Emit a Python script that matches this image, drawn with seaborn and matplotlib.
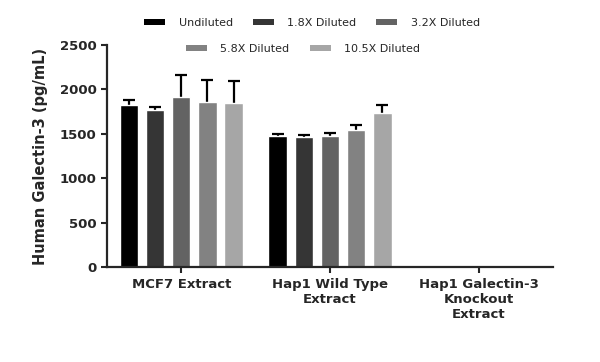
import pandas as pd
import matplotlib
matplotlib.use("Agg")
import matplotlib.pyplot as plt
from matplotlib.patches import Patch
import seaborn as sns

samples = ["MCF7 Extract", "Hap1 Wild Type\nExtract", "Hap1 Galectin-3\nKnockout\nExtract"]
dilutions = ["Undiluted", "1.8X Diluted", "3.2X Diluted", "5.8X Diluted", "10.5X Diluted"]
colors = ["#000000", "#353535", "#636363", "#828282", "#a6a6a6"]

# mean concentration per sample, one list per dilution (knockout: not detected)
undiluted = [1829, 1474, float("nan")]
dil_1_8 = [1772, 1463, float("nan")]
dil_3_2 = [1915, 1474, float("nan")]
dil_5_8 = [1862, 1546, float("nan")]
dil_10_5 = [1851, 1735, float("nan")]

err_undiluted = [49, 26, 0]
err_1_8 = [30, 26, 0]
err_3_2 = [242, 30, 0]
err_5_8 = [238, 49, 0]
err_10_5 = [238, 90, 0]

means = [undiluted, dil_1_8, dil_3_2, dil_5_8, dil_10_5]
errs = [err_undiluted, err_1_8, err_3_2, err_5_8, err_10_5]

rows = []
for d, vals, ee in zip(dilutions, means, errs):
    for s, v, e in zip(samples, vals, ee):
        rows.append({"Sample": s, "Dilution": d, "Conc": v, "Err": e})
df = pd.DataFrame(rows)

sns.set_style("ticks")
plt.rcParams["font.family"] = ["DejaVu Sans"]

fig, ax = plt.subplots(figsize=(6, 3.62), dpi=100)
fig.subplots_adjust(left=0.178, right=0.922, bottom=0.262, top=0.876)

sns.barplot(data=df, x="Sample", y="Conc", hue="Dilution", order=samples,
            hue_order=dilutions, palette=colors, saturation=1, width=0.88,
            gap=0.3, errorbar=None, legend=False, ax=ax, zorder=2)

# error bars drawn behind the bars, so only the upper half shows
for i, d in enumerate(dilutions):
    sub = df[df["Dilution"] == d].set_index("Sample").loc[samples]
    bars = ax.containers[i]
    for bar, (_, r) in zip(bars, sub.iterrows()):
        if pd.isna(r["Conc"]):
            continue
        xc = bar.get_x() + bar.get_width() / 2
        ax.errorbar(xc, r["Conc"], yerr=r["Err"], fmt="none", zorder=1,
                    ecolor="black", elinewidth=1.6, capsize=4, capthick=1.6)

ax.set_ylim(0, 2500)
ax.set_xlim(-0.5, 2.5)
ax.set_yticks([0, 500, 1000, 1500, 2000, 2500])
ax.set_xlabel("")
ax.set_ylabel("Human Galectin-3 (pg/mL)", fontsize=10.5, fontweight="bold", labelpad=8)
ax.tick_params(axis="both", width=1.5, length=4, labelsize=9.5)
for lab in ax.get_xticklabels() + ax.get_yticklabels():
    lab.set_fontweight("bold")
for lab in ax.get_xticklabels():
    lab.set_horizontalalignment("center")
sns.despine(ax=ax)
for sp in ["left", "bottom"]:
    ax.spines[sp].set_linewidth(1.6)
    ax.spines[sp].set_zorder(3)

handles = [Patch(facecolor=c, edgecolor="none") for c in colors]
leg_kw = dict(frameon=False, fontsize=8, handlelength=1.9, handleheight=0.5,
              handletextpad=1.2, columnspacing=1.8, loc="center")
fig.legend(handles[:3], dilutions[:3], ncol=3, bbox_to_anchor=(0.52, 0.936), **leg_kw)
fig.legend(handles[3:], dilutions[3:], ncol=2, bbox_to_anchor=(0.505, 0.865), **leg_kw)

fig.savefig("out.png", dpi=100)
